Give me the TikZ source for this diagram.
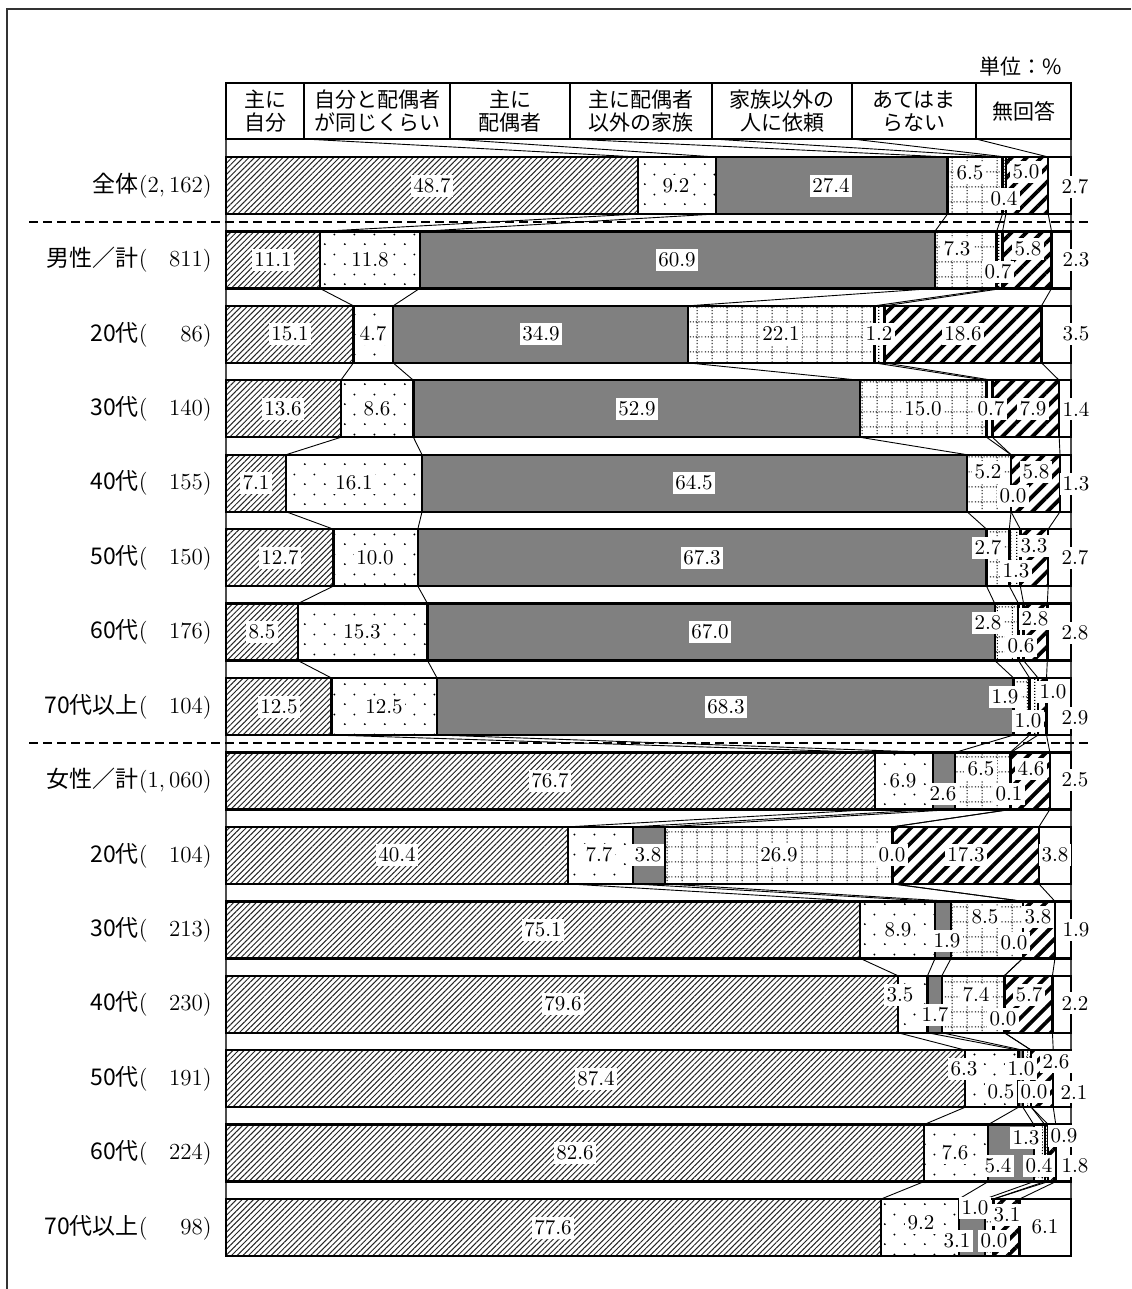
\documentclass[tikz,border=0pt]{standalone}
\usepackage{fontspec}
\newfontfamily\jp{Noto Sans CJK JP}
\usetikzlibrary{patterns,patterns.meta,positioning}

\newcommand\valfont{\fontsize{10.5}{12}\selectfont}
\newcommand\rowfont{\fontsize{11.5}{13}\selectfont}
\newcommand\headfont{\jp\fontsize{10.5}{11.5}\selectfont}
\newlength\numw

% dotted grid (other family members)
\pgfdeclarepatternformonly{dotgrid}{\pgfpointorigin}{\pgfpoint{7.5pt}{7.5pt}}{\pgfpoint{7.5pt}{7.5pt}}{
  \pgfsetlinewidth{0.5pt}
  \pgfsetdash{{0.6pt}{0.9pt}}{0pt}
  \pgfpathmoveto{\pgfpoint{0pt}{3.75pt}}\pgfpathlineto{\pgfpoint{7.5pt}{3.75pt}}
  \pgfpathmoveto{\pgfpoint{3.75pt}{0pt}}\pgfpathlineto{\pgfpoint{3.75pt}{7.5pt}}
  \pgfusepath{stroke}
}
% staggered dots (both the same)
\pgfdeclarepatternformonly{stagdots}{\pgfpointorigin}{\pgfpoint{10pt}{10pt}}{\pgfpoint{10pt}{10pt}}{
  \pgfpathcircle{\pgfpoint{2.5pt}{2.5pt}}{0.55pt}
  \pgfpathcircle{\pgfpoint{7.5pt}{7.5pt}}{0.55pt}
  \pgfusepath{fill}
}
% vertical dotted lines (outside help)
\pgfdeclarepatternformonly{vdots}{\pgfpointorigin}{\pgfpoint{3pt}{1.5pt}}{\pgfpoint{3pt}{1.5pt}}{
  \pgfpathrectangle{\pgfpoint{1.2pt}{0pt}}{\pgfpoint{0.6pt}{0.7pt}}
  \pgfusepath{fill}
}

\tikzset{
    bar/.style={draw=black, line width=1.2pt},
    seg1/.style={bar, pattern={Lines[angle=45,distance=2pt,line width=0.5pt]}, pattern color=black!85},
    seg2/.style={bar, pattern=stagdots},
    seg3/.style={bar, fill=gray},
    seg4/.style={bar, pattern=dotgrid},
    seg5/.style={bar, pattern=vdots},
    seg6/.style={bar, pattern={Lines[angle=45,distance=5.3pt,line width=1.9pt]}},
    seg7/.style={bar, fill=white},
    headcell/.style={
           draw=black, line width=1.2pt,
           align=center,
           inner sep=0pt, outer sep=0pt,
           minimum height=28pt,
           font=\headfont
           },
    rowlab/.style={anchor=east, inner sep=0pt, font=\rowfont},
    val/.style={fill=white, inner xsep=1.2pt, inner ysep=2pt, font=\valfont},
    link/.style={black, line width=0.45pt},
    axisline/.style={black!70, line width=0.7pt},
    sepline/.style={black, line width=1pt, dash pattern=on 4.5pt off 2.5pt},
    frame/.style={black!80, line width=1pt},
}

% one stacked bar: #1 row, #2 the seven shares
\newcommand\drawbar[2]{%
  \pgfmathsetmacro\ytop{157+74.43*#1}%
  \pgfmathsetmacro\ybot{\ytop+57}%
  \gdef\tot{0}%
  \foreach \val in {#2}{\pgfmathsetmacro\tmp{\tot+\val}\xdef\tot{\tmp}}%
  \pgfmathsetmacro\sc{845/\tot}%
  \gdef\cum{0}%
  \foreach \val [count=\seg] in {#2}{%
    \pgfmathsetmacro\xa{226+\sc*\cum}%
    \pgfmathsetmacro\tmp{\cum+\val}\xdef\cum{\tmp}%
    \pgfmathsetmacro\xb{226+\sc*\cum}%
    \path[seg\seg] (\xa,\ytop) rectangle (\xb,\ybot);
    \coordinate (r#1t\seg) at (\xb,\ytop);
    \coordinate (r#1b\seg) at (\xb,\ybot);
  }%
}

\begin{document}
\settowidth{\numw}{\rowfont 2,\,162}%
\begin{tikzpicture}[x=0.5pt,y=-0.5pt]
  \useasboundingbox (0,0) rectangle (1131,1289);
  \fill[white] (0,0) rectangle (1131,1289);
  \draw[frame] (7,1289) -- (7,9) -- (1131,9);
  \draw[axisline] (226,139) -- (226,1256);
  \draw[axisline] (1071,139) -- (1071,1256);

  % legend header
  \node[anchor=east, inner sep=0pt, font=\headfont] (unit) at (1062,67) {単位：\%};
  \foreach \xa/\xb/\txt [count=\seg] in {226/304/{主に\\自分}, 304/450/{自分と配偶者\\が同じくらい},
      450/570/{主に\\配偶者}, 570/712/{主に配偶者\\以外の家族}, 712/852/{家族以外の\\人に依頼},
      852/976/{あてはま\\らない}, 976/1071/{無回答}}
    \node[headcell, minimum width={(\xb-\xa)*0.5pt}] (h\seg) at ({(\xa+\xb)/2},111) {\txt};

  % bars
  \drawbar{0}{48.7,9.2,27.4,6.5,0.4,5.0,2.7}
  \drawbar{1}{11.1,11.8,60.9,7.3,0.7,5.8,2.3}
  \drawbar{2}{15.1,4.7,34.9,22.1,1.2,18.6,3.5}
  \drawbar{3}{13.6,8.6,52.9,15.0,0.7,7.9,1.4}
  \drawbar{4}{7.1,16.1,64.5,5.2,0.0,5.8,1.3}
  \drawbar{5}{12.7,10.0,67.3,2.7,1.3,3.3,2.7}
  \drawbar{6}{8.5,15.3,67.0,2.8,0.6,2.8,2.8}
  \drawbar{7}{12.5,12.5,68.3,1.9,1.0,1.0,2.9}
  \drawbar{8}{76.7,6.9,2.6,6.5,0.1,4.6,2.5}
  \drawbar{9}{40.4,7.7,3.8,26.9,0.0,17.3,3.8}
  \drawbar{10}{75.1,8.9,1.9,8.5,0.0,3.8,1.9}
  \drawbar{11}{79.6,3.5,1.7,7.4,0.0,5.7,2.2}
  \drawbar{12}{87.4,6.3,0.5,1.0,0.0,2.6,2.1}
  \drawbar{13}{82.6,7.6,5.4,1.3,0.4,0.9,1.8}
  \drawbar{14}{77.6,9.2,3.1,1.0,0.0,3.1,6.1}

  % connectors
  \foreach \seg in {1,...,6}
    \draw[link] (h\seg.south east) -- (r0t\seg);
  \foreach \row [evaluate=\row as \nxt using int(\row+1)] in {0,...,13}
    \foreach \seg in {1,...,6}
      \draw[link] (r\row b\seg) -- (r\nxt t\seg);

  \draw[sepline] (29,222.5) -- (1090,222.5);
  \draw[sepline] (29,743) -- (1090,743);

  % row labels
  \foreach \grp/\cnt [count=\row from 0] in {全体/{2,\,162}, 男性／計/811, 20代/86, 30代/140,
      40代/155, 50代/150, 60代/176, 70代以上/104, 女性／計/{1,\,060}, 20代/104, 30代/213,
      40代/230, 50代/191, 60代/224, 70代以上/98}
    \node[rowlab] (n\row) at (212,{185.5+74.43*\row}) {{\jp\grp}(\makebox[\numw][r]{\cnt})};

  % values
  \foreach \px/\py/\txt [count=\seg] in {432/186/48.7, 676/186/9.2, 831/186/27.4, 970/173/6.5, 1004/199/0.4, 1026/172/5.0, 1075/187/2.7}
    \node[val] (v0-\seg) at (\px,\py) {\txt};
  \foreach \px/\py/\txt [count=\seg] in {273/260/11.1, 370/260/11.8, 677/260/60.9, 957/249/7.3, 998/272/0.7, 1028/249/5.8, 1076/260/2.3}
    \node[val] (v1-\seg) at (\px,\py) {\txt};
  \foreach \px/\py/\txt [count=\seg] in {290/334/15.1, 373/334/4.7, 541/334/34.9, 781/334/22.1, 879/334/1.2, 963/334/18.6, 1076/334/3.5}
    \node[val] (v2-\seg) at (\px,\py) {\txt};
  \foreach \px/\py/\txt [count=\seg] in {283/409/13.6, 377/409/8.6, 637/409/52.9, 923/409/15.0, 991/409/0.7, 1033/409/7.9, 1076/409/1.4}
    \node[val] (v3-\seg) at (\px,\py) {\txt};
  \foreach \px/\py/\txt [count=\seg] in {256/483/7.1, 354/483/16.1, 694/483/64.5, 988/472/5.2, 1013/496/0.0, 1036/472/5.8, 1076/484/1.3}
    \node[val] (v4-\seg) at (\px,\py) {\txt};
  \foreach \px/\py/\txt [count=\seg] in {280/558/12.7, 375/558/10.0, 702/558/67.3, 988/548/2.7, 1016/571/1.3, 1034/546/3.3, 1075/558/2.7}
    \node[val] (v5-\seg) at (\px,\py) {\txt};
  \foreach \px/\py/\txt [count=\seg] in {262/632/8.5, 362/632/15.3, 710/632/67.0, 988/623/2.8, 1021/646/0.6, 1035/619/2.8, 1075/633/2.8}
    \node[val] (v6-\seg) at (\px,\py) {\txt};
  \foreach \px/\py/\txt [count=\seg] in {279/707/12.5, 384/707/12.5, 726/707/68.3, 1005/697/1.9, 1028/721/1.0, 1053/692/1.0, 1075/718/2.9}
    \node[val] (v7-\seg) at (\px,\py) {\txt};
  \foreach \px/\py/\txt [count=\seg] in {550/781/76.7, 903/781/6.9, 943/794/2.6, 981/769/6.5, 1009/794/0.1, 1031/769/4.6, 1075/780/2.5}
    \node[val] (v8-\seg) at (\px,\py) {\txt};
  \foreach \px/\py/\txt [count=\seg] in {397/855/40.4, 599/855/7.7, 648/855/3.8, 779/855/26.9, 892/855/0.0, 966/855/17.3, 1055/855/3.8}
    \node[val] (v9-\seg) at (\px,\py) {\txt};
  \foreach \px/\py/\txt [count=\seg] in {543/930/75.1, 898/930/8.9, 947/941/1.9, 985/917/8.5, 1014/943/0.0, 1038/917/3.8, 1076/930/1.9}
    \node[val] (v10-\seg) at (\px,\py) {\txt};
  \foreach \px/\py/\txt [count=\seg] in {563/1004/79.6, 900/995/3.5, 935/1015/1.7, 976/995/7.4, 1003/1019/0.0, 1029/995/5.7, 1075/1003/2.2}
    \node[val] (v11-\seg) at (\px,\py) {\txt};
  \foreach \px/\py/\txt [count=\seg] in {596/1079/87.4, 964/1069/6.3, 1001/1092/0.5, 1021/1069/1.0, 1034/1092/0.0, 1056/1062/2.6, 1074/1092/2.1}
    \node[val] (v12-\seg) at (\px,\py) {\txt};
  \foreach \px/\py/\txt [count=\seg] in {575/1153/82.6, 955/1153/7.6, 998/1166/5.4, 1026/1138/1.3, 1039/1166/0.4, 1064/1136/0.9, 1075/1166/1.8}
    \node[val] (v13-\seg) at (\px,\py) {\txt};
  \foreach \px/\py/\txt [count=\seg] in {553/1228/77.6, 921/1223/9.2, 957/1241/3.1, 975/1208/1.0, 994/1241/0.0, 1007/1215/3.1, 1045/1227/6.1}
    \node[val] (v14-\seg) at (\px,\py) {\txt};
\end{tikzpicture}
\end{document}
